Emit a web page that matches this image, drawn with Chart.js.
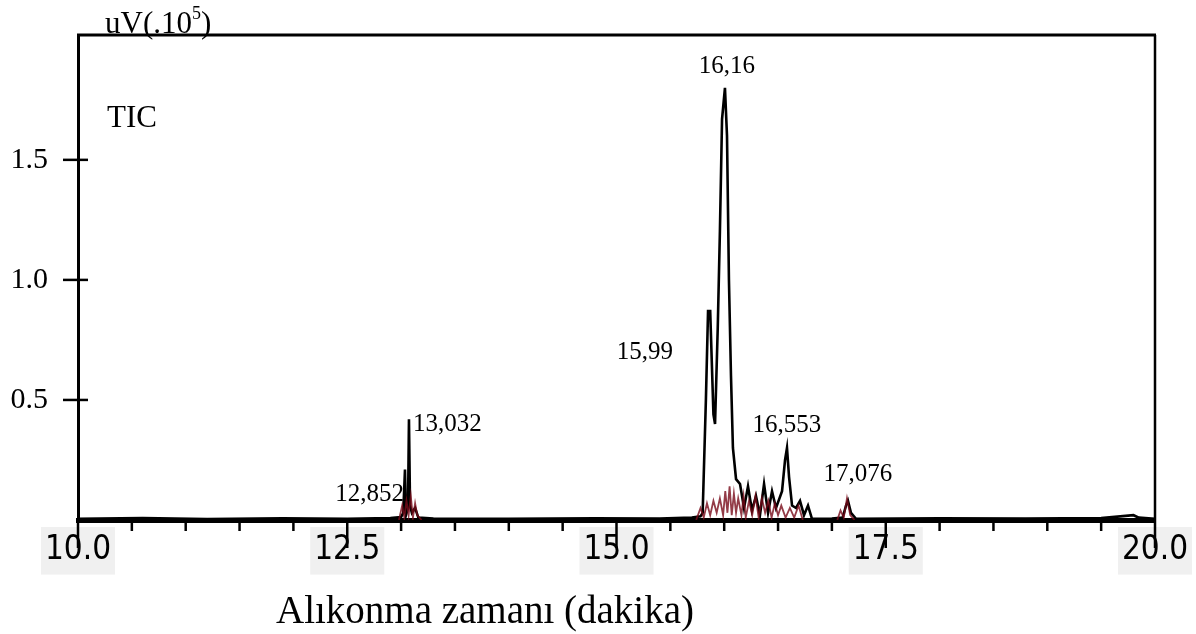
<!DOCTYPE html>
<html>
<head>
<meta charset="utf-8">
<script src="https://cdn.jsdelivr.net/npm/chart.js@4.4.0/dist/chart.umd.min.js"></script>
<style>
  html, body { margin: 0; padding: 0; background: #fff; }
  #wrap { width: 1196px; height: 634px; }
</style>
</head>
<body>
<div id="wrap"><canvas id="tic"></canvas></div>
<script>
// TIC kromatogramı
const times = [10.00, 10.60, 11.20, 11.90, 12.50, 12.90, 13.00, 13.02, 13.036, 13.045, 13.064, 13.073, 13.083, 13.10, 13.13, 13.16, 13.30,
  14.00, 14.80, 15.40, 15.70, 15.78, 15.80, 15.83, 15.85, 15.87, 15.90, 15.915, 15.94, 15.96, 15.98, 16.007, 16.026, 16.044, 16.063,
  16.081, 16.11, 16.147, 16.184, 16.221, 16.258, 16.295, 16.332, 16.37, 16.407, 16.444, 16.481, 16.537, 16.565, 16.583, 16.602,
  16.63, 16.667, 16.704, 16.741, 16.778, 16.815, 17.00, 17.10, 17.131, 17.149, 17.177, 17.224, 18.00, 18.80, 19.50, 19.80, 19.85, 20.00];
const ticValues = [0.005, 0.008, 0.004, 0.007, 0.005, 0.008, 0.012, 0.03, 0.21, 0.02, 0.05, 0.42, 0.06, 0.03, 0.05, 0.01, 0.006,
  0.005, 0.007, 0.006, 0.01, 0.015, 0.03, 0.50, 0.87, 0.87, 0.44, 0.40, 0.80, 1.20, 1.67, 1.80, 1.60, 1.00, 0.60,
  0.30, 0.17, 0.15, 0.05, 0.14, 0.04, 0.10, 0.02, 0.15, 0.03, 0.12, 0.05, 0.12, 0.25, 0.30, 0.18,
  0.06, 0.05, 0.08, 0.02, 0.06, 0.005, 0.006, 0.01, 0.06, 0.08, 0.03, 0.005, 0.007, 0.006, 0.008, 0.02, 0.01, 0.005];

// kırmızı gürültü izi (null = boşluk)
const noiseTimes = [12.98, 13.01, 13.03, 13.05, 13.07, 13.09, 13.11, 13.13, 13.15, 13.19, 13.5,
  15.74, 15.78, 15.81, 15.84, 15.87, 15.90, 15.93, 15.96, 15.99, 16.01, 16.03, 16.05, 16.07, 16.09, 16.11, 16.13, 16.16,
  16.18, 16.20, 16.23, 16.26, 16.29, 16.32, 16.35, 16.38, 16.41, 16.44, 16.47, 16.50, 16.53, 16.57, 16.61, 16.65, 16.69, 16.73, 16.9,
  17.05, 17.08, 17.11, 17.14, 17.17, 17.21];
const noiseValues = [0.0, 0.06, 0.01, 0.08, 0.02, 0.10, 0.01, 0.07, 0.02, 0.0, null,
  0.0, 0.05, 0.01, 0.07, 0.02, 0.08, 0.03, 0.09, 0.02, 0.12, 0.03, 0.14, 0.02, 0.11, 0.03, 0.09, 0.02,
  0.10, 0.01, 0.08, 0.02, 0.10, 0.01, 0.09, 0.03, 0.08, 0.01, 0.07, 0.02, 0.06, 0.01, 0.05, 0.01, 0.06, 0.0, null,
  0.0, 0.04, 0.01, 0.09, 0.02, 0.0];

const xTicks = [10.0, 12.5, 15.0, 17.5, 20.0];
const yTicks = [0.5, 1.0, 1.5];

const peakNames = ['12,852', '13,032', '15,99', '16,16', '16,553', '17,076'];
const peakTimes = [13.036, 13.073, 15.86, 16.007, 16.583, 17.149];
const peakValues = [0.21, 0.42, 0.87, 1.80, 0.30, 0.08];
// etiket kaydırmaları (px) ve hizalama
const peakLabelStyle = [[-1, 25, 'right'], [4, 5, 'left'], [-36, 41, 'right'], [2, -21, 'center'], [0, -23, 'center'], [10, -26, 'center']];

const SERIF = '"Liberation Serif", "Times New Roman", serif';

const decorPlugin = {
  id: 'decor',
  afterDraw(chart) {
    const ctx = chart.ctx;
    const x = chart.scales.x, y = chart.scales.y;
    const area = chart.chartArea;
    ctx.save();
    ctx.strokeStyle = '#000';
    ctx.fillStyle = '#000';

    // üst ve sağ çerçeve
    ctx.lineWidth = 3;
    ctx.beginPath();
    ctx.moveTo(area.left - 1, area.top);
    ctx.lineTo(area.right + 1, area.top);
    ctx.stroke();
    ctx.lineWidth = 2.5;
    ctx.beginPath();
    ctx.moveTo(area.right, area.top);
    ctx.lineTo(area.right, area.bottom);
    ctx.stroke();

    // y çentikleri (ekseni keser)
    ctx.lineWidth = 2.5;
    yTicks.forEach(v => {
      const py = y.getPixelForValue(v);
      ctx.beginPath();
      ctx.moveTo(area.left - 15, py);
      ctx.lineTo(area.left + 10, py);
      ctx.stroke();
    });

    // x çentikleri
    for (let t = 10; t <= 20.001; t += 0.5) {
      const px = x.getPixelForValue(t);
      const major = Math.abs(t / 2.5 - Math.round(t / 2.5)) < 0.001;
      ctx.beginPath();
      ctx.moveTo(px, area.bottom);
      ctx.lineTo(px, area.bottom + (major ? 28 : 11));
      ctx.stroke();
    }

    // pik etiketleri
    ctx.font = '25px ' + SERIF;
    ctx.textBaseline = 'middle';
    peakNames.forEach((name, i) => {
      const s = peakLabelStyle[i];
      ctx.textAlign = s[2];
      ctx.fillText(name, x.getPixelForValue(peakTimes[i]) + s[0], y.getPixelForValue(peakValues[i]) + s[1]);
    });

    // birim ve TIC
    ctx.textAlign = 'left';
    ctx.textBaseline = 'alphabetic';
    ctx.font = '31px ' + SERIF;
    const unit = 'uV(.10';
    ctx.fillText(unit, 105, 33);
    const w1 = ctx.measureText(unit).width;
    ctx.font = '18px ' + SERIF;
    ctx.fillText('5', 105 + w1, 19);
    const w2 = ctx.measureText('5').width;
    ctx.font = '31px ' + SERIF;
    ctx.fillText(')', 105 + w1 + w2, 33);

    ctx.textBaseline = 'middle';
    ctx.fillText('TIC', 107, 119);

    // eksen başlığı
    ctx.font = '39px ' + SERIF;
    ctx.textAlign = 'center';
    ctx.fillText('Alıkonma zamanı (dakika)', 485, 613);
    ctx.restore();
  }
};

new Chart(document.getElementById('tic'), {
  type: 'line',
  data: {
    datasets: [
      {
        label: 'gürültü',
        data: noiseTimes.map((t, i) => ({ x: t, y: noiseValues[i] })),
        borderColor: 'rgba(120, 10, 25, 0.8)',
        borderWidth: 1.8,
        pointRadius: 0,
        tension: 0,
        spanGaps: false
      },
      {
        label: 'TIC',
        data: times.map((t, i) => ({ x: t, y: ticValues[i] })),
        borderColor: '#000',
        borderWidth: 2.6,
        pointRadius: 0,
        tension: 0
      }
    ]
  },
  options: {
    responsive: true,
    maintainAspectRatio: false,
    animation: false,
    layout: { padding: { top: 35, right: 41, left: 0, bottom: 0 } },
    plugins: { legend: { display: false }, tooltip: { enabled: false } },
    scales: {
      x: {
        type: 'linear',
        min: 10,
        max: 20,
        afterFit: scale => {
          scale.height = 114;
          scale.paddingLeft = 0;
          scale.paddingRight = 0;
        },
        afterBuildTicks: scale => { scale.ticks = xTicks.map(v => ({ value: v })); },
        grid: { display: false, drawTicks: false },
        border: { color: '#000', width: 5 },
        ticks: {
          padding: 11,
          maxRotation: 0,
          autoSkip: false,
          color: '#000',
          font: { family: '"DejaVu Sans Condensed", "Liberation Sans", sans-serif', size: 33 },
          showLabelBackdrop: true,
          backdropColor: '#f0f0f0',
          backdropPadding: 4,
          callback: v => Number(v).toFixed(1)
        }
      },
      y: {
        min: 0,
        max: 2.02,
        afterFit: scale => {
          scale.width = 78;
          scale.paddingTop = 0;
          scale.paddingBottom = 0;
        },
        afterBuildTicks: scale => { scale.ticks = yTicks.map(v => ({ value: v })); },
        grid: { display: false, drawTicks: false },
        border: { color: '#000', width: 3 },
        ticks: {
          padding: 30,
          color: '#000',
          font: { family: SERIF, size: 30 },
          callback: v => Number(v).toFixed(1)
        }
      }
    }
  },
  plugins: [decorPlugin]
});
</script>
</body>
</html>
